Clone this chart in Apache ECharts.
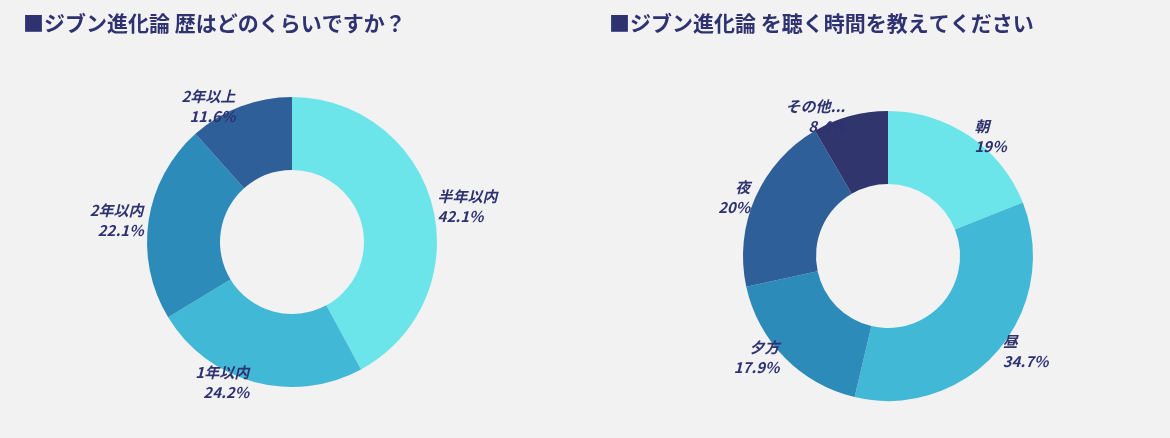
<!DOCTYPE html>
<html><head><meta charset="utf-8">
<script src="https://cdn.jsdelivr.net/npm/echarts@6/dist/echarts.min.js"></script>
<style>html,body{margin:0;padding:0;background:#f2f2f2}#c{width:1170px;height:438px}</style>
</head><body><div id="c"></div>
<script>
// 歴
var names1 = ['半年以内', '1年以内', '2年以内', '2年以上'];
var values1 = [42.1, 24.2, 22.1, 11.6];
// 時間
var names2 = ['朝', '昼', '夕方', '夜', 'その他...'];
var values2 = [19, 34.7, 17.9, 20, 8.4];
var colors = ['#6ce5ea', '#41b8d5', '#2d8bba', '#2f5f98', '#31356e'];

function toData(names, values){
    var d = [];
    for (var i = 0; i < names.length; i++) d.push({name: names[i], value: values[i], itemStyle: {color: colors[i]}});
    return d;
}
function pie(center, data){
    return {
        type: 'pie', center: center, radius: [72, 145], startAngle: 90, clockwise: true,
        data: data, silent: true,
        label: {
            position: 'outside', distance: 2, formatter: '{b}\n{c}%', align: 'center',
            color: '#2e3270', fontStyle: 'italic', fontWeight: 'bold', fontSize: 15, lineHeight: 20,
            fontFamily: '"Noto Sans CJK JP", "Noto Sans", sans-serif'
        },
        labelLine: {show: false, length: 0, length2: 0}
    };
}
var titleStyle = {color: '#2e3270', fontSize: 21, fontWeight: 'bold', fontFamily: '"Noto Sans CJK JP", sans-serif'};
var chart = echarts.init(document.getElementById('c'));
chart.setOption({
    backgroundColor: '#f2f2f2',
    animation: false,
    title: [
        {text: '■ジブン進化論 歴はどのくらいですか？', left: 18, top: 8, textStyle: titleStyle},
        {text: '■ジブン進化論 を聴く時間を教えてください', left: 604, top: 8, textStyle: titleStyle}
    ],
    series: [pie([292, 242], toData(names1, values1)), pie([888, 256], toData(names2, values2))]
});
</script></body></html>
